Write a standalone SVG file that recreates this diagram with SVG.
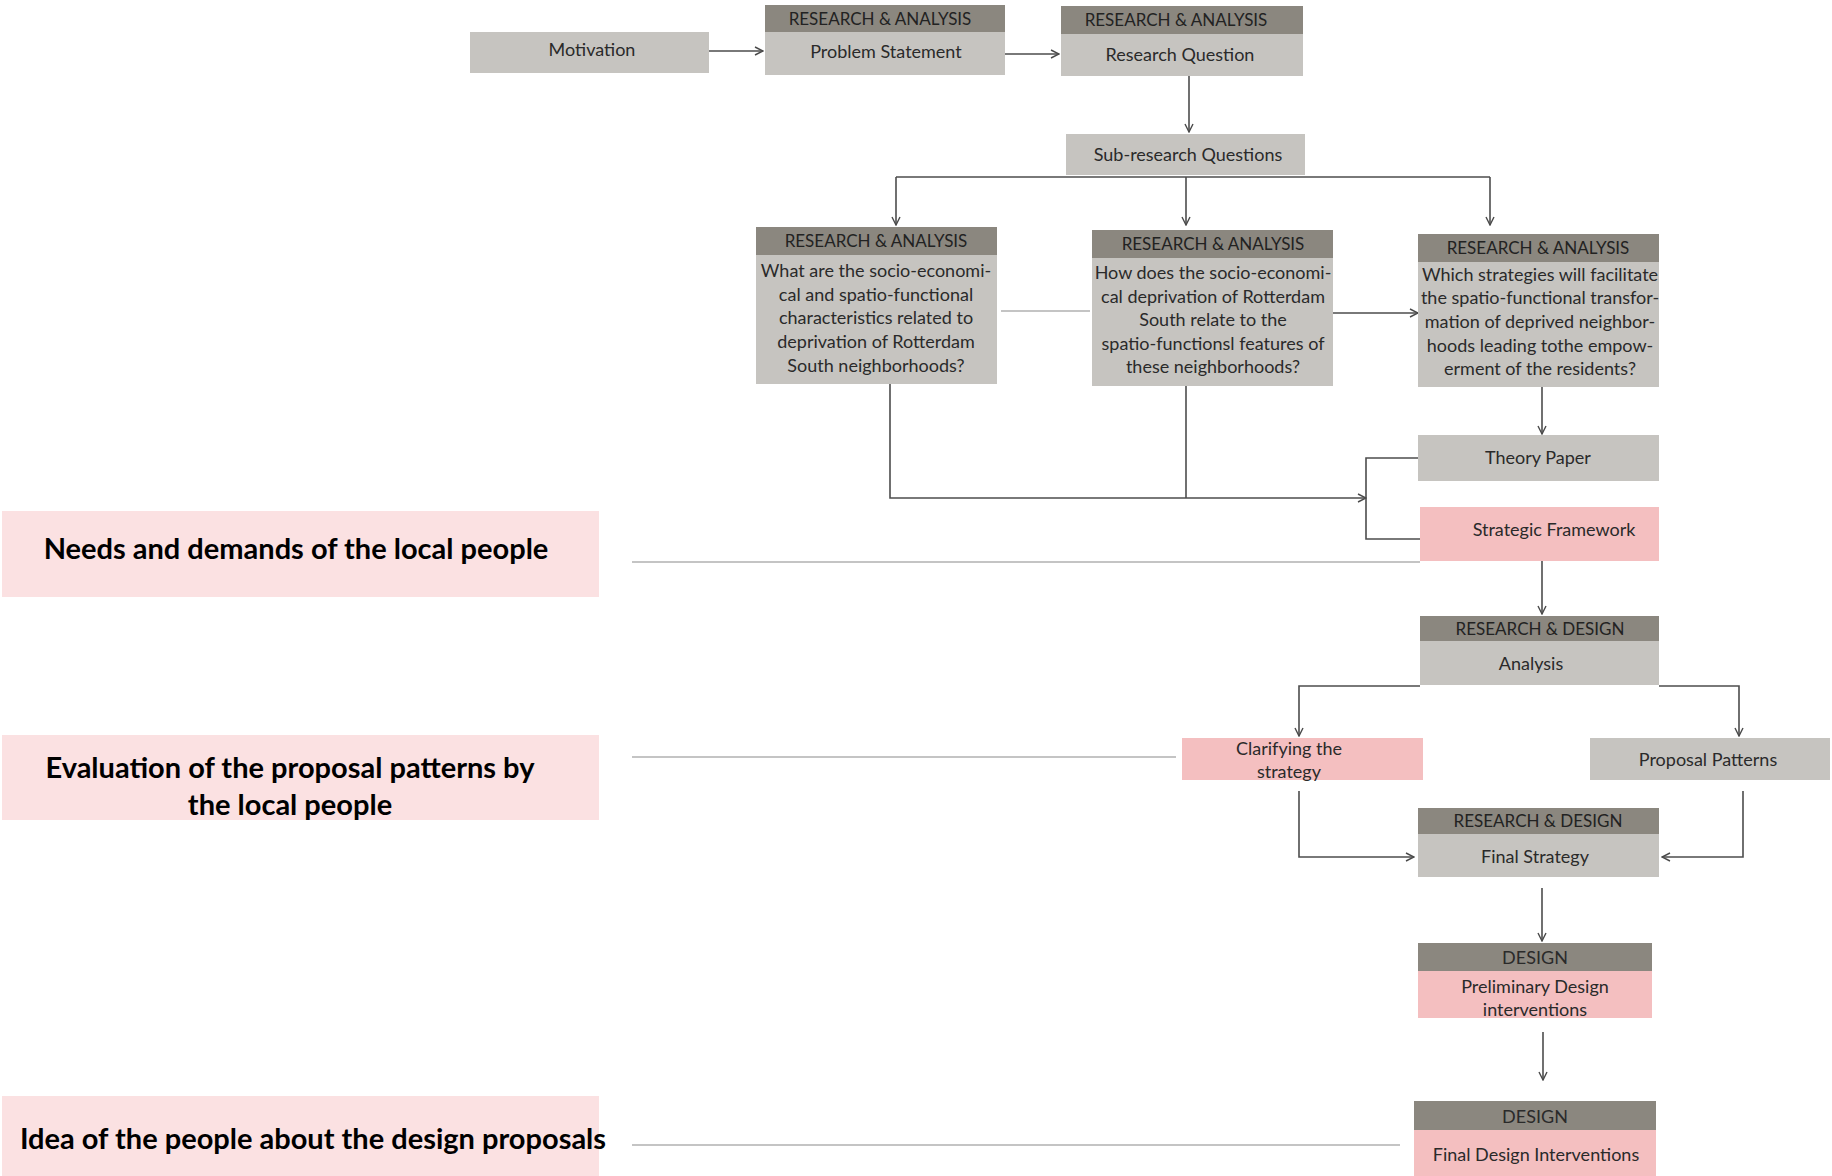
<svg xmlns="http://www.w3.org/2000/svg" width="1832" height="1176" viewBox="0 0 1832 1176">
<defs>
<marker id="ah" viewBox="0 0 10 10" refX="9" refY="5" markerWidth="10" markerHeight="10" markerUnits="userSpaceOnUse" orient="auto">
<path d="M1,1 L9,5 L1,9" fill="none" stroke="#4a4a4a" stroke-width="1.4"/>
</marker>
</defs>
<style>
.hd{fill:#8b877f}
.bd{fill:#c6c4c0}
.pk{fill:#f4bfc0}
.lp{fill:#fbe1e2}
.t{font-family:Lato,"Open Sans","Liberation Sans",sans-serif;font-size:18px;fill:#2a2a2a;text-anchor:middle}
.h{font-family:Lato,"Open Sans","Liberation Sans",sans-serif;font-size:17px;fill:#222;text-anchor:middle}
.b{font-family:Lato,"Open Sans","Liberation Sans",sans-serif;font-size:29px;font-weight:bold;fill:#000;text-anchor:middle}
.c{fill:none;stroke:#4d4d4d;stroke-width:1.6}
.g{fill:none;stroke:#c4c4c4;stroke-width:2}
</style>
<rect width="1832" height="1176" fill="#fff"/>
<g id="connectors">
<path class="c" d="M709,51 H763" marker-end="url(#ah)"/>
<path class="c" d="M1005,54 H1059" marker-end="url(#ah)"/>
<path class="c" d="M1189,76 V132" marker-end="url(#ah)"/>
<path class="c" d="M896,177 H1490"/>
<path class="c" d="M896,177 V225" marker-end="url(#ah)"/>
<path class="c" d="M1186,177 V225" marker-end="url(#ah)"/>
<path class="c" d="M1490,177 V225" marker-end="url(#ah)"/>
<path class="g" d="M1001,311 H1090"/>
<path class="c" d="M1333,313 H1418" marker-end="url(#ah)"/>
<path class="c" d="M890,384 V498 H1366" marker-end="url(#ah)"/>
<path class="c" d="M1186,386 V498"/>
<path class="c" d="M1542,387 V434" marker-end="url(#ah)"/>
<path class="c" d="M1418,458 H1366 V539 H1420"/>
<path class="c" d="M1542,561 V614" marker-end="url(#ah)"/>
<path class="c" d="M1420,686 H1299 V736" marker-end="url(#ah)"/>
<path class="c" d="M1659,686 H1739 V736" marker-end="url(#ah)"/>
<path class="c" d="M1299,791 V857 H1414" marker-end="url(#ah)"/>
<path class="c" d="M1743,791 V857 H1662" marker-end="url(#ah)"/>
<path class="c" d="M1542,888 V941" marker-end="url(#ah)"/>
<path class="c" d="M1543,1032 V1080" marker-end="url(#ah)"/>
<path class="g" d="M632,562 H1420"/>
<path class="g" d="M632,757 H1176"/>
<path class="g" d="M632,1145 H1400"/>
</g>
<g id="motivation">
<rect class="bd" x="470" y="32" width="239" height="41"/>
<text class="t" x="592" y="56">Motivation</text>
</g>
<g id="problem-statement">
<rect class="hd" x="765" y="5" width="240" height="27"/>
<rect class="bd" x="765" y="32" width="240" height="43"/>
<text class="h" x="880" y="25">RESEARCH &amp; ANALYSIS</text>
<text class="t" x="886" y="58">Problem Statement</text>
</g>
<g id="research-question">
<rect class="hd" x="1061" y="6" width="242" height="28"/>
<rect class="bd" x="1061" y="34" width="242" height="42"/>
<text class="h" x="1176" y="26">RESEARCH &amp; ANALYSIS</text>
<text class="t" x="1180" y="61">Research Question</text>
</g>
<g id="sub-research">
<rect class="bd" x="1066" y="134" width="239" height="41"/>
<text class="t" x="1188" y="161">Sub-research Questions</text>
</g>
<g id="question-a">
<rect class="hd" x="756" y="227" width="241" height="28"/>
<rect class="bd" x="756" y="255" width="241" height="129"/>
<text class="h" x="876" y="247">RESEARCH &amp; ANALYSIS</text>
<text class="t" x="876" y="277">What are the socio-economi-</text>
<text class="t" x="876" y="301">cal and spatio-functional</text>
<text class="t" x="876" y="324">characteristics related to</text>
<text class="t" x="876" y="348">deprivation of Rotterdam</text>
<text class="t" x="876" y="372">South neighborhoods?</text>
</g>
<g id="question-b">
<rect class="hd" x="1092" y="230" width="241" height="28"/>
<rect class="bd" x="1092" y="258" width="241" height="128"/>
<text class="h" x="1213" y="250">RESEARCH &amp; ANALYSIS</text>
<text class="t" x="1213" y="279">How does the socio-economi-</text>
<text class="t" x="1213" y="303">cal deprivation of Rotterdam</text>
<text class="t" x="1213" y="326">South relate to the</text>
<text class="t" x="1213" y="350">spatio-functionsl features of</text>
<text class="t" x="1213" y="373">these neighborhoods?</text>
</g>
<g id="question-c">
<rect class="hd" x="1418" y="234" width="241" height="28"/>
<rect class="bd" x="1418" y="262" width="241" height="125"/>
<text class="h" x="1538" y="254">RESEARCH &amp; ANALYSIS</text>
<text class="t" x="1540" y="281">Which strategies will facilitate</text>
<text class="t" x="1540" y="304">the spatio-functional transfor-</text>
<text class="t" x="1540" y="328">mation of deprived neighbor-</text>
<text class="t" x="1540" y="352">hoods leading tothe empow-</text>
<text class="t" x="1540" y="375">erment  of the residents?</text>
</g>
<g id="theory-paper">
<rect class="bd" x="1418" y="435" width="241" height="46"/>
<text class="t" x="1538" y="464">Theory Paper</text>
</g>
<g id="strategic-framework">
<rect class="pk" x="1420" y="507" width="239" height="54"/>
<text class="t" x="1554" y="536">Strategic Framework</text>
</g>
<g id="analysis">
<rect class="hd" x="1420" y="616" width="239" height="25"/>
<rect class="bd" x="1420" y="641" width="239" height="44"/>
<text class="h" x="1540" y="635">RESEARCH &amp; DESIGN</text>
<text class="t" x="1531" y="670">Analysis</text>
</g>
<g id="clarifying">
<rect class="pk" x="1182" y="738" width="241" height="42"/>
<text class="t" x="1289" y="755">Clarifying the</text>
<text class="t" x="1289" y="778">strategy</text>
</g>
<g id="proposal-patterns">
<rect class="bd" x="1590" y="738" width="240" height="42"/>
<text class="t" x="1708" y="766">Proposal Patterns</text>
</g>
<g id="final-strategy">
<rect class="hd" x="1418" y="808" width="241" height="26"/>
<rect class="bd" x="1418" y="834" width="241" height="43"/>
<text class="h" x="1538" y="827">RESEARCH &amp; DESIGN</text>
<text class="t" x="1535" y="863">Final Strategy</text>
</g>
<g id="preliminary-design">
<rect class="hd" x="1418" y="943" width="234" height="28"/>
<rect class="pk" x="1418" y="971" width="234" height="47"/>
<text class="t" x="1535" y="964">DESIGN</text>
<text class="t" x="1535" y="993">Preliminary Design</text>
<text class="t" x="1535" y="1016">interventions</text>
</g>
<g id="final-design">
<rect class="hd" x="1414" y="1101" width="242" height="29"/>
<rect class="pk" x="1414" y="1130" width="242" height="46"/>
<text class="t" x="1535" y="1123">DESIGN</text>
<text class="t" x="1536" y="1161">Final Design Interventions</text>
</g>
<g id="needs">
<rect class="lp" x="2" y="511" width="597" height="86"/>
<text class="b" x="296" y="559">Needs and demands of the local people</text>
</g>
<g id="evaluation">
<rect class="lp" x="2" y="735" width="597" height="85"/>
<text class="b" x="290" y="778">Evaluation of the proposal patterns by</text>
<text class="b" x="290" y="815">the local people</text>
</g>
<g id="idea">
<rect class="lp" x="2" y="1096" width="597" height="80"/>
<text class="b" x="313" y="1149">Idea of the people about the design proposals</text>
</g>
</svg>
